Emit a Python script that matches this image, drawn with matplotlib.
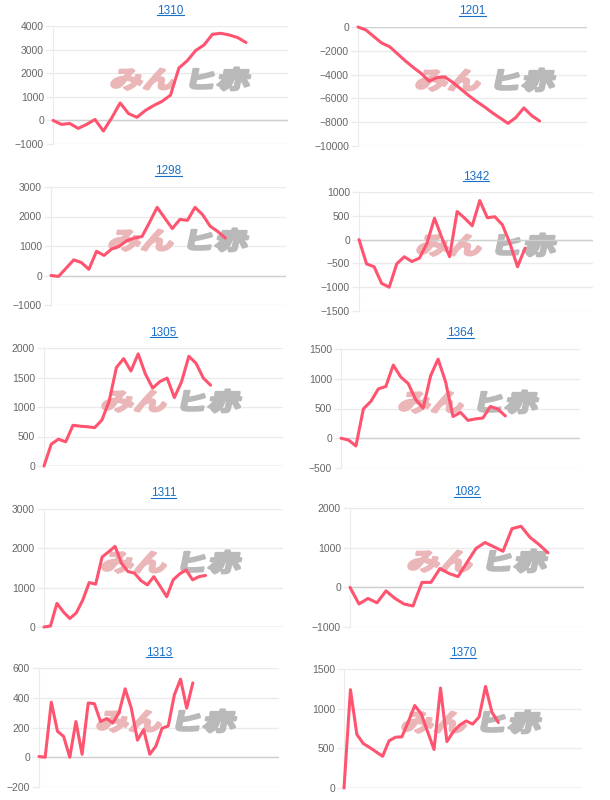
import matplotlib
matplotlib.use('Agg')
import matplotlib.pyplot as plt
import matplotlib.transforms as mtransforms
from matplotlib.font_manager import FontProperties
from matplotlib.lines import Line2D
from matplotlib.patches import PathPatch
from matplotlib.textpath import TextPath
import numpy as np

# ----------- DATA -------------
titles = ["1310", "1201", "1298", "1342", "1305", "1364", "1311", "1082", "1313", "1370"]

p1310 = [0, -170, -130, -340, -170, 40, -450, 110, 740, 290, 130, 420, 630, 810,
         1070, 2220, 2530, 2960, 3200, 3650, 3690, 3620, 3510, 3300]
p1201 = [0, -250, -800, -1350, -1650, -2250, -2850, -3400, -3900, -4550, -4250, -4200,
         -4650, -5200, -5750, -6250, -6700, -7200, -7650, -8100, -7600, -6800, -7450, -7900]
p1298 = [0, -30, 250, 530, 440, 210, 820, 680, 900, 990, 1180, 1270, 1320, 1800,
         2310, 1950, 1590, 1900, 1870, 2310, 2060, 1670, 1490, 1270]
p1342 = [0, -510, -570, -920, -1000, -510, -360, -460, -390, -80, 450, 30, -360,
         590, 450, 290, 820, 460, 480, 310, -80, -570, -180]
p1305 = [0, 370, 455, 410, 690, 675, 665, 650, 780, 1100, 1670, 1820, 1610, 1900,
         1560, 1320, 1430, 1490, 1160, 1430, 1860, 1740, 1490, 1370]
p1364 = [0, -30, -130, 495, 620, 830, 870, 1230, 1030, 920, 650, 505, 1050, 1330,
         950, 365, 435, 300, 325, 340, 535, 490, 375]
p1311 = [0, 25, 600, 385, 215, 360, 685, 1130, 1090, 1780, 1910, 2050, 1620, 1410,
         1370, 1180, 1070, 1280, 1030, 770, 1200, 1350, 1450, 1200, 1280, 1310]
p1082 = [0, -420, -280, -390, -90, -280, -420, -470, 125, 125, 475, 350, 270, 630,
         980, 1130, 1020, 910, 1480, 1540, 1260, 1080, 870]
p1313 = [5, 0, 370, 175, 140, 0, 240, 20, 365, 360, 240, 260, 230, 300, 460, 330,
         115, 185, 20, 75, 195, 210, 420, 525, 330, 500]
p1370 = [0, 1240, 675, 560, 510, 455, 400, 595, 640, 645, 835, 1040, 935, 710, 485,
         1260, 585, 710, 795, 845, 805, 895, 1280, 955, 825]

series = [p1310, p1201, p1298, p1342, p1305, p1364, p1311, p1082, p1313, p1370]

# y axis range and step for each chart
y_min = [-1000, -10000, -1000, -1500, 0, -500, 0, -1000, -200, 0]
y_max = [4000, 0, 3000, 1000, 2000, 1500, 3000, 2000, 600, 1500]
y_step = [1000, 2000, 1000, 500, 500, 500, 1000, 1000, 200, 500]
# number of day slots on the x axis
x_slots = [28, 29, 31, 31, 33, 32, 37, 26, 39, 37]
# -------------------------------

W, H = 610, 800
# plot area boxes in pixels: left, top, right, bottom
boxes = [
    (53, 26, 288, 144), (358, 27, 587, 146),
    (51, 187, 286, 305), (359, 192, 593, 311),
    (44, 348, 283, 466), (341, 349, 580, 468),
    (44, 509, 283, 627), (350, 508, 584, 627),
    (39, 668, 279, 787), (344, 669, 582, 788),
]

line_color = '#ff5470'
grid_color = '#ebebeb'
zero_color = '#cfcfcf'
title_color = '#1a6fc9'

plt.rcParams['font.family'] = ['Liberation Sans', 'DejaVu Sans']

fig = plt.figure(figsize=(W / 100, H / 100), dpi=100)
wm_font = FontProperties(family='Noto Sans CJK JP', weight='bold')

title_texts = []
for i, (l, t, r, b) in enumerate(boxes):
    ax = fig.add_axes([l / W, 1 - b / H, (r - l) / W, (b - t) / H])
    vals = series[i]
    ax.plot(np.arange(len(vals)), vals, color=line_color, lw=2.2,
            solid_joinstyle='round', solid_capstyle='round', zorder=4, clip_on=False)
    ax.set_xlim(0, x_slots[i])
    ax.set_ylim(y_min[i], y_max[i])
    ax.set_yticks(np.arange(y_min[i], y_max[i] + 1, y_step[i]))
    ax.set_xticks([])
    ax.yaxis.grid(True, color=grid_color, lw=1)
    ax.set_axisbelow(True)
    if y_min[i] <= 0 <= y_max[i]:
        ax.axhline(0, color=zero_color, lw=1, zorder=2)
    for s in ['top', 'right', 'bottom']:
        ax.spines[s].set_visible(False)
    ax.spines['left'].set_color(grid_color)
    ax.tick_params(axis='y', length=5, width=1, color=grid_color, pad=1.5,
                   labelsize=7.5, labelcolor='#666666')
    ax.patch.set_alpha(0)

    tt = ax.set_title(titles[i], fontsize=8.5, color=title_color, pad=9)
    title_texts.append(tt)

    # watermark logo: pink kana + grey kanji, stretched, slanted and heavy
    x0 = l + 56
    y0 = (H - t) - 62
    for txt, col, dx in [('みん', '#ebb6b8', 0), ('ヒ赤', '#b9b9b9', 74)]:
        tp = TextPath((0, 0), txt, size=1, prop=wm_font)
        tr = mtransforms.Affine2D().scale(33, 24).skew_deg(12, 0).translate(x0 + dx, y0)
        patch = PathPatch(tp, facecolor=col, edgecolor=col, lw=1.8,
                          joinstyle='round', transform=tr, zorder=1)
        ax.add_artist(patch)

# underline the titles like links
fig.canvas.draw()
renderer = fig.canvas.get_renderer()
for tt in title_texts:
    bb = tt.get_window_extent(renderer)
    yy = bb.y0 + 1.5
    fig.add_artist(Line2D([bb.x0 / W, bb.x1 / W], [yy / H, yy / H],
                          transform=fig.transFigure, color=title_color, lw=0.8))

fig.savefig('out.png', dpi=100, facecolor='white')
